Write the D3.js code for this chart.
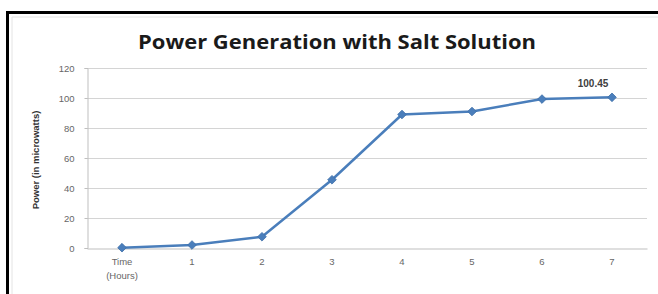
<!DOCTYPE html>
<html><head><meta charset="utf-8">
<script src="https://cdn.jsdelivr.net/npm/d3@7"></script>
<style>body{margin:0;background:#fff}svg{display:block}</style>
</head><body><svg id="c" width="658" height="294"></svg>
<script>
const categories = ["Time\n(Hours)", "1", "2", "3", "4", "5", "6", "7"];
const powerValues = [0.2, 2, 7.5, 45.5, 89, 91, 99.3, 100.45];
const yTicks = [0, 20, 40, 60, 80, 100, 120];
const titleText = "Power Generation with Salt Solution";
const yAxisTitle = "Power (in microwatts)";
const dataLabel = "100.45";

(function(){
const svg = d3.select("#c");
// frame
svg.append("rect").attr("x",0).attr("y",0).attr("width",658).attr("height",294).attr("fill","#fff");
svg.append("line").attr("x1",12).attr("x2",658).attr("y1",17).attr("y2",17).attr("stroke","#e4e4e4").attr("stroke-width",1);
svg.append("line").attr("x1",12).attr("x2",12).attr("y1",17).attr("y2",294).attr("stroke","#e4e4e4").attr("stroke-width",1);
svg.append("line").attr("x1",7.5).attr("x2",658).attr("y1",12.5).attr("y2",12.5).attr("stroke","#000").attr("stroke-width",3);
svg.append("line").attr("x1",7.5).attr("x2",7.5).attr("y1",11).attr("y2",294).attr("stroke","#000").attr("stroke-width",3);

const pLeft = 87, pRight = 647, pTop = 68, pBottom = 248;
const x = d3.scaleBand().domain(categories).range([pLeft, pRight]);
const y = d3.scaleLinear().domain([0, 120]).range([pBottom, pTop]);

// gridlines
svg.append("g").selectAll("line").data(yTicks.filter(d=>d>0)).join("line")
  .attr("x1", pLeft).attr("x2", pRight)
  .attr("y1", d=>Math.round(y(d))+0.5).attr("y2", d=>Math.round(y(d))+0.5)
  .attr("stroke", "#d4d4d4").attr("stroke-width", 1);

// y axis
const yAxis = d3.axisLeft(y).tickValues(yTicks).tickSize(3).tickPadding(10);
const gy = svg.append("g").attr("transform", `translate(${pLeft+0.5},0)`).call(yAxis);
gy.select(".domain").attr("stroke", "#bfbfbf");
gy.selectAll(".tick line").attr("stroke", "#bfbfbf");
gy.selectAll(".tick text").attr("fill", "#666").attr("font-family", "Liberation Sans, Arial, sans-serif").attr("font-size", 9.5);

// x axis
const xAxis = d3.axisBottom(x).tickSize(0).tickPadding(10);
const gx = svg.append("g").attr("transform", `translate(0,${Math.round(pBottom)+0.5})`).call(xAxis);
gx.select(".domain").attr("stroke", "#bfbfbf");
gx.selectAll(".tick text").attr("fill", "#666").attr("font-family", "Liberation Sans, Arial, sans-serif").attr("font-size", 9.5)
  .each(function(d){
    const t = d3.select(this); const parts = d.split("\n"); t.text(null);
    parts.forEach((p,i)=>t.append("tspan").attr("x",0).attr("dy", i===0?"0.71em":"1.4em").text(p));
  });

// line
const line = d3.line().x((d,i)=>x(categories[i])+x.bandwidth()/2).y(d=>y(d));
svg.append("path").datum(powerValues).attr("d", line).attr("fill","none")
  .attr("stroke","#4a7ebb").attr("stroke-width",2.5).attr("stroke-linejoin","round");
svg.append("g").selectAll("path").data(powerValues).join("path")
  .attr("d", d3.symbol().type(d3.symbolDiamond2).size(48))
  .attr("transform",(d,i)=>`translate(${x(categories[i])+x.bandwidth()/2},${y(d)})`)
  .attr("fill","#4a7ebb").attr("stroke","#3d6ea8").attr("stroke-width",0.8);

// data label
const last = powerValues.length-1;
svg.append("text").attr("x", x(categories[last])+x.bandwidth()/2 - 19).attr("y", y(powerValues[last]) - 10)
  .attr("text-anchor","middle").attr("font-family","Liberation Sans, Arial, sans-serif")
  .attr("font-size",10).attr("font-weight","bold").attr("fill","#404040").text(dataLabel);

// title
svg.append("text").attr("x", 337).attr("y", 49).attr("text-anchor","middle")
  .attr("font-family","Open Sans, Liberation Sans, sans-serif").attr("font-size",19).attr("font-weight","bold")
  .attr("fill","#1a1a1a").attr("textLength", 398).attr("lengthAdjust","spacingAndGlyphs").text(titleText);

// y title
svg.append("text").attr("transform","translate(39,160) rotate(-90)").attr("text-anchor","middle")
  .attr("font-family","Liberation Sans, Arial, sans-serif").attr("font-size",9.5).attr("font-weight","bold")
  .attr("fill","#333").text(yAxisTitle);
})();
</script></body></html>
